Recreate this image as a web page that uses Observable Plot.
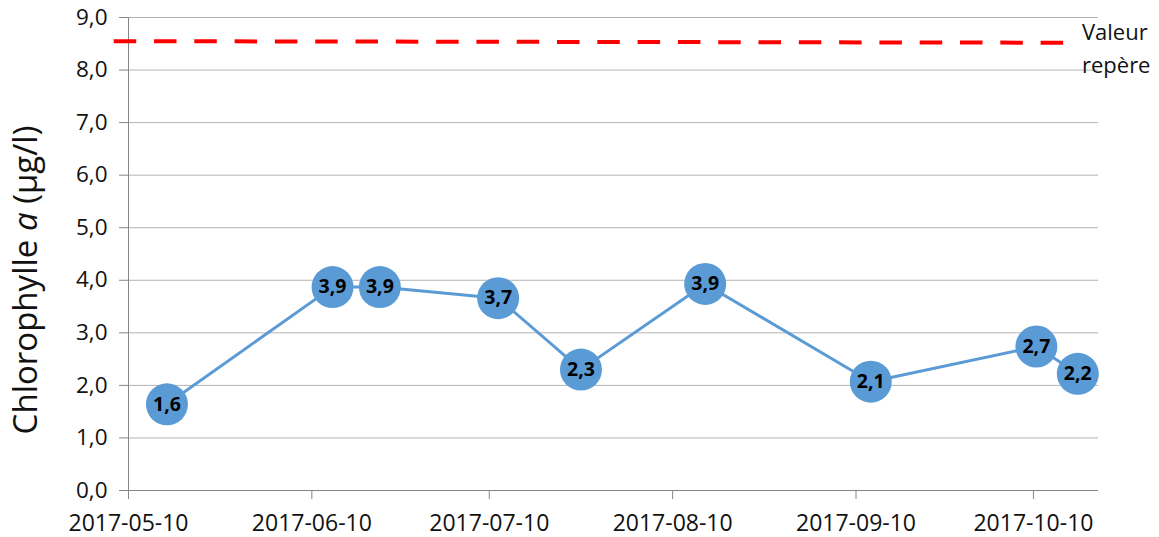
<!DOCTYPE html>
<html>
<head>
<meta charset="utf-8">
<script src="https://cdn.jsdelivr.net/npm/d3@7"></script>
<script src="https://cdn.jsdelivr.net/npm/@observablehq/plot@0.6"></script>
<style>
  html, body { margin: 0; padding: 0; background: #fff; }
  #chart svg { display: block; }
</style>
</head>
<body>
<div id="chart"></div>
<script>
// ---- data ----
const sampleDates = ["2017-05-16","2017-06-13","2017-06-21","2017-07-11","2017-07-25","2017-08-15","2017-09-12","2017-10-10","2017-10-17"];
const chlorophyll = [1.64, 3.87, 3.87, 3.66, 2.30, 3.93, 2.07, 2.74, 2.22];
const refDates = ["2017-05-07", "2017-10-15"];
const refValues = [8.55, 8.52];
const refLabel = "Valeur\nrepère";
const xTickDates = ["2017-05-10","2017-06-10","2017-07-10","2017-08-10","2017-09-10","2017-10-10"];
const xDomain = ["2017-05-10", "2017-10-21"];
const yTicks = [0,1,2,3,4,5,6,7,8,9];
const yLabelParts = ["Chlorophylle ", "a", " (µg/l)"];

// ---- helpers ----
const atMidnight = d => new Date(d + "T00:00:00Z");
const atNoon = d => new Date(d + "T12:00:00Z");
const fmtNum = d => d.toFixed(1).replace(".", ",");

const points = sampleDates.map((d, i) => ({date: atNoon(d), value: chlorophyll[i]}));
const refLine = refDates.map((d, i) => ({date: atNoon(d), value: refValues[i]}));

const blue = "#5b9bd5";
const axisGray = "#868686";

const chart = Plot.plot({
  width: 1159,
  height: 537,
  marginLeft: 128,
  marginRight: 61,
  marginTop: 17,
  marginBottom: 47,
  style: {fontFamily: "'Open Sans', sans-serif", background: "#fff", overflow: "visible"},
  x: {type: "utc", domain: xDomain.map(atMidnight)},
  y: {domain: [0, 9]},
  marks: [
    Plot.ruleY(yTicks.filter(d => d > 0), {y: d => d, stroke: "#b3b3b3", strokeWidth: 1}),
    Plot.ruleY([0], {stroke: axisGray, strokeWidth: 1}),
    Plot.ruleX([atMidnight(xDomain[0])], {stroke: axisGray, strokeWidth: 1}),
    Plot.axisY({ticks: yTicks, tickSize: 9, tickPadding: 12, tickFormat: fmtNum, fontSize: 22.5, stroke: axisGray, fill: "#111", label: null}),
    Plot.axisX({ticks: xTickDates.map(atMidnight), tickSize: 9, tickPadding: 15, tickFormat: d3.utcFormat("%Y-%m-%d"), fontSize: 23, stroke: axisGray, fill: "#111", label: null}),
    Plot.line(refLine, {x: "date", y: "value", stroke: "#ff0000", strokeWidth: 4, strokeDasharray: "22.5,17.8", strokeLinecap: "butt"}),
    Plot.text([refLabel], {x: [refLine[1].date], y: [refLine[1].value], text: d => d, textAnchor: "start", lineAnchor: "middle", lineHeight: 1.5, dx: 16, dy: 3, fontSize: 22, fill: "#111"}),
    Plot.line(points, {x: "date", y: "value", stroke: blue, strokeWidth: 3}),
    Plot.dot(points, {x: "date", y: "value", r: 21, fill: blue, stroke: "none"}),
    Plot.text(points, {x: "date", y: "value", text: d => fmtNum(d.value), fontSize: 19.5, fontWeight: "bold", fill: "#000"})
  ]
});

document.getElementById("chart").appendChild(chart);

// y-axis title with italic "a"
const t = d3.select(chart).append("text")
  .attr("transform", "translate(37,280) rotate(-90)")
  .attr("text-anchor", "middle")
  .attr("fill", "#111")
  .style("font-family", "'Open Sans', sans-serif")
  .style("font-size", "33px");
t.append("tspan").text(yLabelParts[0]);
t.append("tspan").style("font-style", "italic").text(yLabelParts[1]);
t.append("tspan").text(yLabelParts[2]);
</script>
</body>
</html>
